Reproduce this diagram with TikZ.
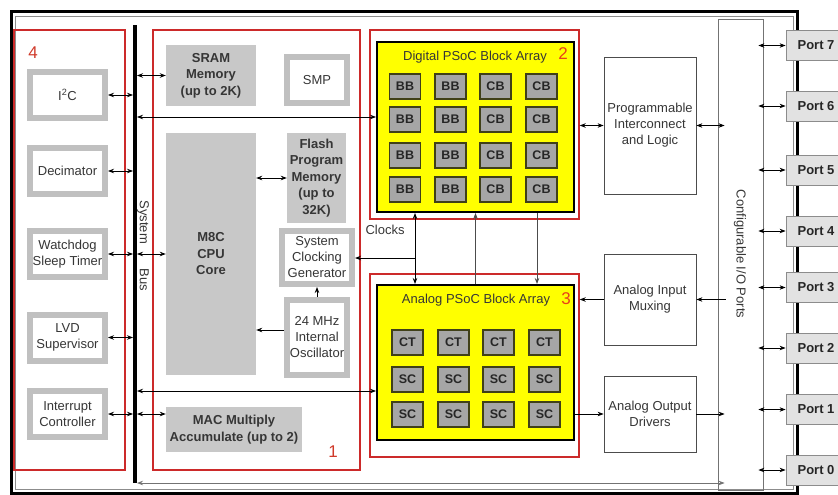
\documentclass[tikz,border=0pt]{standalone}
\usepackage{fontspec}
\setmainfont{Liberation Sans}
\usetikzlibrary{arrows.meta}
\definecolor{framered}{HTML}{CC2A2A}
\definecolor{numred}{HTML}{D03A2A}
\definecolor{numorange}{HTML}{E8401A}
\definecolor{rimgray}{HTML}{C0C0C0}
\definecolor{memgray}{HTML}{C8C8C8}
\definecolor{cellgray}{HTML}{A6A6A6}
\definecolor{cellrim}{HTML}{404018}
\definecolor{arrayyellow}{HTML}{FFFF00}
\definecolor{portgray}{HTML}{E2E2E2}
\definecolor{txt}{HTML}{363636}
\begin{document}
\begin{tikzpicture}[x=1pt,y=-1pt,
  every node/.style={font=\fontsize{13}{16}\selectfont, text=txt, inner sep=0pt, align=center},
  rimbox/.style={draw=rimgray, line width=6pt, fill=white},
  membox/.style={fill=memgray, font=\fontsize{13}{16.5}\selectfont\bfseries},
  plainbox/.style={draw=black!70, line width=0.8pt, fill=white},
  redframe/.style={draw=framered, line width=1.4pt},
  arraybox/.style={draw=black, line width=2pt, fill=arrayyellow},
  cell/.style={draw=cellrim, line width=1.2pt, fill=cellgray, minimum width=31pt, minimum height=25pt, font=\fontsize{12.5}{15}\selectfont\bfseries, text=black!85},
  portbox/.style={draw=black!45, line width=0.8pt, fill=portgray, minimum width=60pt, minimum height=30pt, font=\fontsize{13}{16}\selectfont\bfseries, text=black!85},
  link/.style={line width=0.8pt, draw=black},
  ar/.style={link, -{Stealth[length=6pt,width=4.5pt]}},
  dar/.style={link, {Stealth[length=6pt,width=4.5pt]}-{Stealth[length=6pt,width=4.5pt]}},
  bignum/.style={font=\fontsize{17}{17}\selectfont}
]
\clip (0,0) rectangle (838,495);

% chip outline
\draw[line width=3pt] (11,12) rectangle (797,493);
\draw[black!45, line width=0.7pt] (15.5,16.5) rectangle (793,489);

% functional groups
\node[redframe, minimum width=111pt, minimum height=440pt] (grp4) at (69.5,250) {};
\node[redframe, minimum width=207pt, minimum height=440pt] (grp1) at (256.5,250) {};
\node[redframe, minimum width=209pt, minimum height=189pt] (grp2) at (474.5,124.5) {};
\node[redframe, minimum width=209pt, minimum height=183pt] (grp3) at (474.5,365.5) {};

% system bus
\node[fill=black, minimum width=4pt, minimum height=458pt, outer sep=0pt] (bus) at (135,254) {};
\node[rotate=-90] (buslabel) at (143,246) {System\hspace{25pt}Bus};

% peripherals
\node[rimbox, minimum width=75pt, minimum height=46pt] (i2c) at (67.5,95) {I\textsuperscript{2}C};
\node[rimbox, minimum width=75pt, minimum height=46pt] (dec) at (67.5,171) {Decimator};
\node[rimbox, minimum width=75pt, minimum height=46pt] (wdt) at (67.5,254) {Watchdog\\Sleep Timer};
\node[rimbox, minimum width=75pt, minimum height=46pt] (lvd) at (67.5,337.5) {LVD\\Supervisor};
\node[rimbox, minimum width=75pt, minimum height=46pt] (irq) at (67.5,414) {Interrupt\\Controller};

% core
\node[membox, minimum width=90pt, minimum height=61pt] (sram) at (211,75.5) {SRAM\\Memory\\(up to 2K)};
\node[rimbox, minimum width=60pt, minimum height=46pt] (smp) at (317,80) {SMP};
\node[membox, minimum width=90pt, minimum height=242pt] (cpu) at (211,254) {M8C\\CPU\\Core};
\node[membox, minimum width=59pt, minimum height=90pt] (flash) at (316.5,178) {Flash\\Program\\Memory\\(up to\\32K)};
\node[rimbox, minimum width=70pt, minimum height=53pt] (sysclk) at (317,257.5) {System\\Clocking\\Generator};
\node[rimbox, minimum width=60pt, minimum height=75pt] (osc) at (317,337.5) {24 MHz\\Internal\\Oscillator};
\node[membox, minimum width=136pt, minimum height=45pt] (mac) at (234,429.5) {MAC Multiply\\Accumulate (up to 2)};

% PSoC block arrays
\node[arraybox, minimum width=197pt, minimum height=170pt] (dig) at (475.5,127) {};
\node (digtitle) at (475,57) {Digital PSoC Block Array};
\foreach \r/\y in {1/86.5,2/119.5,3/155.5,4/189.5}
  \foreach \c/\x/\t in {1/405/BB,2/450.5/BB,3/495.5/CB,4/541.5/CB}
    \node[cell] (d\r\c) at (\x,\y) {\t};

\node[arraybox, minimum width=197pt, minimum height=155pt] (ana) at (475.5,362.5) {};
\node (anatitle) at (476,300) {Analog PSoC Block Array};
\foreach \r/\y/\t in {1/342.5/CT,2/379.5/SC,3/414.5/SC}
  \foreach \c/\x in {1/407.5,2/453.5,3/498.5,4/544.5}
    \node[cell] (a\r\c) at (\x,\y) {\t};

% analog and routing blocks
\node[plainbox, minimum width=92pt, minimum height=137pt] (pil) at (650,125.5) {Programmable\\Interconnect\\and Logic};
\node[plainbox, minimum width=92pt, minimum height=91pt] (aim) at (650,299.5) {Analog Input\\Muxing};
\node[plainbox, minimum width=92pt, minimum height=76pt] (aod) at (650,414) {Analog Output\\Drivers};
\node[draw=black!55, line width=0.8pt, minimum width=45pt, minimum height=471pt] (io) at (740.5,254.5) {};
\node[rotate=-90] (iolabel) at (740,254) {Configurable I/O Ports};

% group numbers
\node[bignum, text=numred] (n4) at (33,53) {4};
\node[bignum, text=numred] (n1) at (333,452) {1};
\node[bignum, text=numorange] (n2) at (563,54) {2};
\node[bignum, text=numorange] (n3) at (566,299) {3};

\node (clocks) at (385,230) {Clocks};

% peripheral links to the bus
\foreach \p in {i2c,dec,wdt,lvd,irq}
  \draw[dar] (\p.east) -- (\p.east -| bus.west);

% core links
\draw[dar] (bus.east |- sram.west) -- (sram.west);
\draw[dar] (bus.east |- cpu.west) -- (cpu.west);
\draw[dar] (bus.east |- irq.east) -- (mac.west |- irq.east);
\draw[dar] (cpu.east |- flash.west) -- (flash.west);
\coordinate (oscout) at (284,330);
\draw[ar] (osc.west |- oscout) -- (cpu.east |- oscout);
\draw[ar] (osc.north) -- (sysclk.south);

% bus to arrays
\coordinate (dbus) at (377,117);
\coordinate (abus) at (377,391);
\draw[dar] (bus.east |- dbus) -- (dig.west |- dbus);
\draw[dar] (bus.east |- abus) -- (ana.west |- abus);

% clocks and array interconnect
\coordinate (clk) at (415,258);
\coordinate (clk3) at (537,250);
\draw[dar] (dig.south -| clk) -- (ana.north -| clk);
\draw[ar] (clk) -- (sysclk.east |- clk);
\draw[ar, draw=black!70] (ana.north) -- (dig.south);
\draw[ar, draw=black!70] (dig.south -| clk3) -- (ana.north -| clk3);

% right-hand links
\draw[dar] (grp2.east |- pil.west) -- (pil.west);
\draw[dar] (pil.east) -- ([xshift=7pt]io.west |- pil.east);
\draw[ar] ([xshift=8pt]io.west |- aim.east) -- (aim.east);
\draw[ar] (aim.west) -- (grp3.east |- aim.west);
\draw[ar] (ana.east |- aod.west) -- (aod.west);
\draw[ar] (aod.east) -- ([xshift=7pt]io.west |- aod.east);

% bottom return line
\draw[dar, draw=black!55] (bus.south east) -- ([xshift=7pt]io.west |- bus.south east);

% I/O ports
\foreach \n/\y in {7/45.5,6/106,5/170,4/231,3/287.5,2/348,1/409.5,0/470} {
  \node[portbox] (port\n) at (816,\y) {Port \n};
  \draw[dar] ([xshift=-5pt]io.east |- port\n.west) -- (port\n.west);
}
\end{tikzpicture}
\end{document}
